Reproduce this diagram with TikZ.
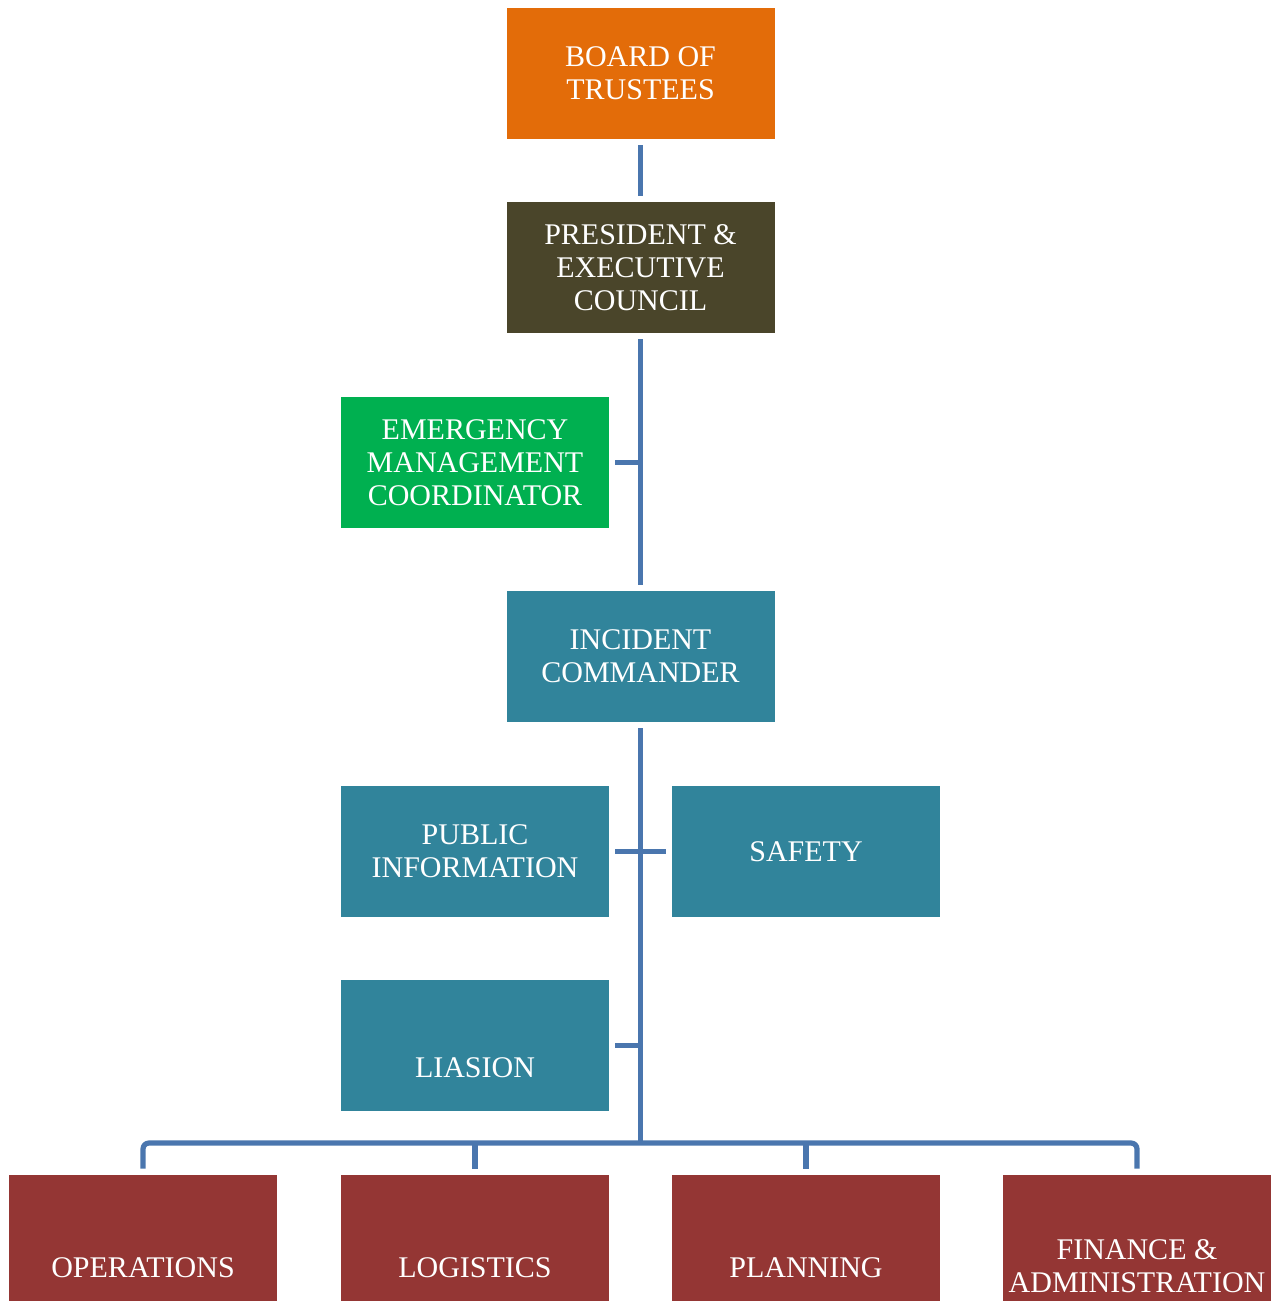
\documentclass[tikz,border=0pt]{standalone}
\usepackage{fontspec}
\setmainfont{Liberation Serif}

\definecolor{boardorange}{HTML}{E36C09}
\definecolor{execolive}{HTML}{4A452A}
\definecolor{emcgreen}{HTML}{00B050}
\definecolor{cmdteal}{HTML}{31849B}
\definecolor{sectionred}{HTML}{943634}
\definecolor{linkblue}{HTML}{4A76AE}

\begin{document}
\begin{tikzpicture}[x=0.5pt, y=-0.5pt,
  unit/.style={minimum width=134pt, minimum height=65.5pt, inner sep=0pt,
    text=white, align=center, font=\fontsize{15}{16.5}\selectfont},
  low/.style={text height=#1, text depth=0pt},
  link/.style={linkblue, line width=2.6pt, shorten <=3pt, shorten >=3pt}]
  \useasboundingbox (0,0) rectangle (1275,1301);
  \node[unit, fill=boardorange] (board) at (640.5,73.5) {BOARD OF\\TRUSTEES};
  \node[unit, fill=execolive] (pres) at (640.5,267.5)
    {PRESIDENT \&\\EXECUTIVE\\COUNCIL};
  \node[unit, fill=emcgreen] (emc) at (475,462.5)
    {EMERGENCY\\MANAGEMENT\\COORDINATOR};
  \node[unit, fill=cmdteal] (ic) at (640.5,656.5) {INCIDENT\\COMMANDER};
  \node[unit, fill=cmdteal] (pio) at (475,851.5) {PUBLIC\\INFORMATION};
  \node[unit, fill=cmdteal] (safety) at (806,851.5) {SAFETY};
  \node[unit, fill=cmdteal, low=31.5pt] (liaison) at (475,1045.5) {LIASION};
  \node[unit, fill=sectionred, low=36.5pt] (ops) at (143,1240.5) {OPERATIONS};
  \node[unit, fill=sectionred, low=36.5pt] (log) at (475,1240.5) {LOGISTICS};
  \node[unit, fill=sectionred, low=36.5pt] (plan) at (806,1240.5) {PLANNING};
  \node[unit, fill=sectionred, low=51.5pt] (fin) at (1137,1240.5)
    {FINANCE \&\\ADMINISTRATION};

  \draw[link] (board) -- (pres);
  \draw[link] (pres) -- (ic);
  \draw[link, shorten >=0pt] (emc) -- (emc -| ic);
  \draw[link] (pio) -- (safety);
  \draw[link, shorten >=0pt] (liaison) -- (liaison -| ic);
  \coordinate (bus) at (640.5,1143);
  \draw[link, shorten >=-1pt] (ic) -- (bus);
  \draw[link, rounded corners=3pt] (ops) |- (bus) -| (fin);
  \foreach \n in {log,plan}
    \draw[link, shorten <=0pt] (\n |- bus) -- (\n);
\end{tikzpicture}
\end{document}
